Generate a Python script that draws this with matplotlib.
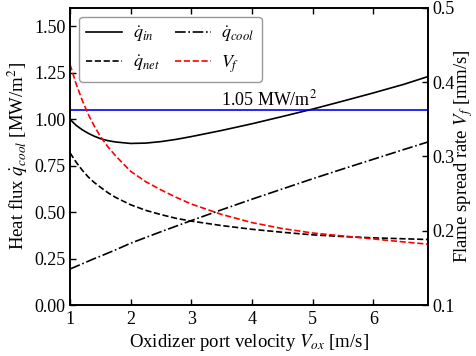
import matplotlib
matplotlib.use("Agg")
import matplotlib.pyplot as plt

plt.rcParams['font.family'] = ['Liberation Serif', 'DejaVu Serif']
plt.rcParams['mathtext.fontset'] = 'stix'
plt.rcParams['font.size'] = 13
plt.rcParams['axes.linewidth'] = 1.2

v_ox = [1.0, 1.1, 1.2, 1.3, 1.4, 1.5, 1.625, 1.75, 2.0, 2.25, 2.5, 2.75, 3.0,
        3.5, 4.0, 4.5, 5.0, 5.5, 6.0, 6.5, 6.9]
q_in = [1.0, 0.968, 0.944, 0.925, 0.909, 0.896, 0.885, 0.878, 0.870, 0.872, 0.880,
        0.892, 0.907, 0.94, 0.976, 1.015, 1.055, 1.098, 1.142, 1.188, 1.23]
q_cool = [0.194, 0.208, 0.222, 0.236, 0.25, 0.263, 0.28, 0.297, 0.333, 0.364, 0.395,
          0.425, 0.455, 0.513, 0.57, 0.625, 0.68, 0.733, 0.785, 0.837, 0.878]
q_net = [0.82, 0.77, 0.727, 0.69, 0.66, 0.635, 0.605, 0.58, 0.54, 0.51, 0.487,
         0.467, 0.452, 0.428, 0.408, 0.392, 0.378, 0.369, 0.362, 0.357, 0.353]
v_f = [0.424, 0.398, 0.376, 0.357, 0.341, 0.327, 0.313, 0.301, 0.280, 0.266, 0.255,
       0.245, 0.236, 0.222, 0.211, 0.203, 0.197, 0.193, 0.189, 0.185, 0.182]
q_limit = 1.05

fig = plt.figure(figsize=(4.76, 3.56), dpi=100)
ax = fig.add_axes([0.147, 0.143, 0.752, 0.835])
ax2 = ax.twinx()

l1, = ax.plot(v_ox, q_in, color='black', lw=1.2, ls='-', label=r'$\dot{q}_{in}$')
l2, = ax.plot(v_ox, q_net, color='black', lw=1.2, ls='--', label=r'$\dot{q}_{net}$')
l3, = ax.plot(v_ox, q_cool, color='black', lw=1.2, ls='-.', label=r'$\dot{q}_{cool}$')
ax.axhline(q_limit, color='#0000ff', lw=1.2)
ax.text(4.28, q_limit + 0.005, '1.05 MW/m$^2$', ha='center', va='bottom', fontsize=13)
l4, = ax2.plot(v_ox, v_f, color='red', lw=1.2, ls='--', label=r'$V_f$')

ax.set_xlim(1, 6.9)
ax.set_ylim(0, 1.6)
ax2.set_ylim(0.1, 0.5)
ax.set_xticks([1, 2, 3, 4, 5, 6])
ax.set_yticks([0, 0.25, 0.5, 0.75, 1.0, 1.25, 1.5])
ax.set_yticklabels(['0.00', '0.25', '0.50', '0.75', '1.00', '1.25', '1.50'])
ax2.set_yticks([0.1, 0.2, 0.3, 0.4, 0.5])

ax.tick_params(direction='in', top=True, length=4, width=1.0, pad=3)
ax.tick_params(axis='x', pad=4)
ax2.tick_params(direction='in', length=4, width=1.0, pad=3)

ax.set_xlabel(r'Oxidizer port velocity $V_{ox}$ [m/s]', labelpad=3, fontsize=13.5)
ax.set_ylabel(r'Heat flux $\dot{q}_{cool}$ [MW/m$^2$]', labelpad=3, fontsize=13.5)
ax2.set_ylabel(r'Flame spread rate $V_f$ [mm/s]', fontsize=13.5)
ax2.yaxis.set_label_coords(1.068, 0.5)

leg = ax.legend(handles=[l1, l2, l3, l4], loc='upper left', ncol=2, fontsize=13,
                handlelength=2.0, columnspacing=0.8, handletextpad=0.6,
                borderaxespad=0.5, fancybox=True, framealpha=1.0,
                edgecolor='#999999', bbox_to_anchor=(0.0, 1.0))

fig.savefig('out.png', dpi=100)
